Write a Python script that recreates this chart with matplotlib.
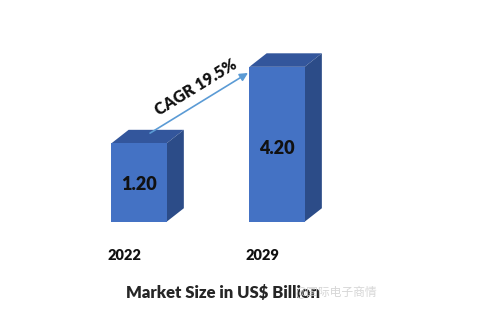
import matplotlib
matplotlib.use("Agg")
import matplotlib.pyplot as plt
from matplotlib.patches import Polygon
import numpy as np

# Data
years = ["2022", "2029"]
market_size = [1.20, 4.20]
value_labels = ["1.20", "4.20"]
cagr_label = "CAGR 19.5%"
axis_title = "Market Size in US$ Billion"
watermark = "@国际电子商情"

# Styling
front_color = "#4472C4"
top_color = "#33569C"
side_color = "#2C4C88"
arrow_color = "#5B9BD5"
text_color = "#111111"
baseline = -1.875   # floor of the 3D bars
bar_w = 0.40
depth_x, depth_y = 0.125, 0.53
weight = "heavy"

plt.rcParams["font.family"] = ["Lato", "DejaVu Sans"]

fig = plt.figure(figsize=(4.89, 3.29), dpi=100)
ax = fig.add_axes([0, 0, 1, 1])
ax.set_xlim(-1.007, 2.536)
ax.set_ylim(-6.08, 6.82)
ax.axis("off")

x = np.arange(len(years))
vals = np.array(market_size)

# Front faces
ax.bar(x, vals - baseline, bottom=baseline, width=bar_w,
       color=front_color, edgecolor="none", zorder=3)

for xi, v, lab in zip(x, vals, value_labels):
    l, r = xi - bar_w / 2, xi + bar_w / 2
    top = Polygon([(l, v), (r, v), (r + depth_x, v + depth_y), (l + depth_x, v + depth_y)],
                  closed=True, facecolor=top_color, edgecolor="none", zorder=2)
    side = Polygon([(r, baseline), (r + depth_x, baseline + depth_y),
                    (r + depth_x, v + depth_y), (r, v)],
                   closed=True, facecolor=side_color, edgecolor="none", zorder=2)
    ax.add_patch(top)
    ax.add_patch(side)
    ax.text(xi, baseline + 0.47 * (v - baseline), lab, ha="center", va="center",
            fontsize=13, fontweight=weight, color=text_color, zorder=4)

# Year labels under the bars
for xi, yr in zip(x, years):
    ax.text(xi - 0.105, -3.18, yr, ha="center", va="center",
            fontsize=10.5, fontweight=weight, color=text_color)

# CAGR arrow between the bars
start = (x[0] + 0.08, vals[0] + 0.40)
end = (x[1] - bar_w / 2 - 0.01, vals[1] - 0.24)
ax.annotate("", xy=end, xytext=start,
            arrowprops=dict(arrowstyle="-|>", color=arrow_color, lw=1.2,
                            mutation_scale=12, shrinkA=0, shrinkB=0), zorder=5)
p0 = ax.transData.transform(start)
p1 = ax.transData.transform(end)
angle = np.degrees(np.arctan2(p1[1] - p0[1], p1[0] - p0[0]))
ax.text(0.413, 3.41, cagr_label, rotation=angle, rotation_mode="anchor",
        ha="center", va="center", fontsize=11.5, fontweight=weight, color=text_color)

# Axis title with the faint source mark drawn over its end
fig.text(223 / 489, 1 - 293 / 329, axis_title, ha="center", va="center",
         fontsize=12, fontweight=weight, color="#262626")
fig.text(336 / 489, 1 - 292 / 329, watermark, ha="center", va="center",
         fontsize=8.5, color="#d2d2d2", alpha=0.9,
         family=["Noto Sans CJK SC", "DejaVu Sans"])

fig.savefig("out.png", dpi=100, facecolor="white")
